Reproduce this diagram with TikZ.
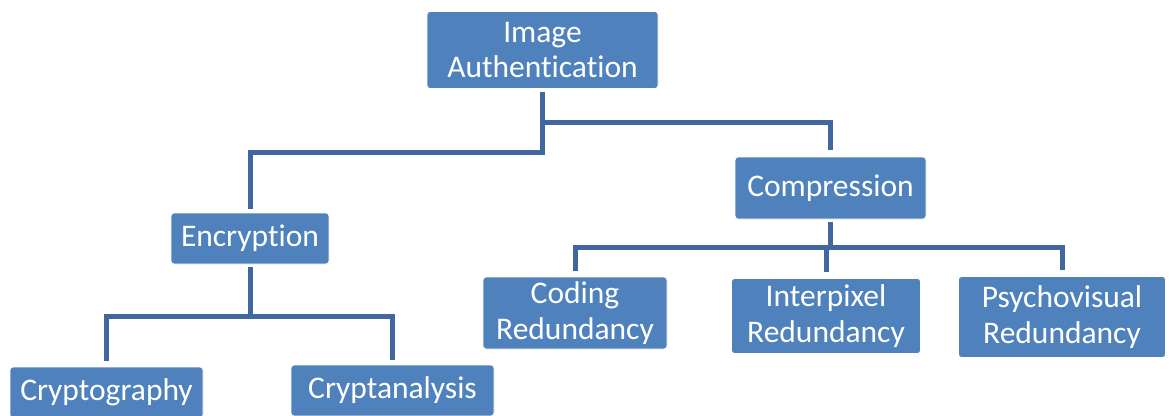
\documentclass[tikz,border=0pt]{standalone}
\usepackage{fontspec}
\setmainfont{Carlito}[Ligatures=NoCommon]
\usetikzlibrary{calc}
\definecolor{boxblue}{RGB}{79,129,189}
\definecolor{linkblue}{RGB}{65,104,158}
\begin{document}
\begin{tikzpicture}[x=1pt,y=-1pt,
  box/.style={fill=boxblue, draw=white, line width=0.8pt, rounded corners=3pt,
    text=white, align=center, inner sep=0pt,
    font=\fontsize{31.5}{35.5}\selectfont},
  conn/.style={draw=linkblue, line width=5pt, shorten <=3pt, shorten >=4pt}]
\useasboundingbox (0,0) rectangle (1169,415);
\clip (0,0) rectangle (1169,415);
\fill[white] (0,0) rectangle (1169,415);

% boxes
\node[box, minimum width=231pt, minimum height=77pt] (ia) at (542.5,50) {Image\\Authentication};
\node[box, minimum width=191pt, minimum height=62pt] (comp) at (830.5,188) {Compression};
\node[box, minimum width=158pt, minimum height=51pt] (enc) at (250,238.5) {Encryption};
\node[box, minimum width=184pt, minimum height=72pt] (cod) at (575,313) {Coding\\Redundancy};
\node[box, minimum width=189pt, minimum height=75pt] (int) at (826,316) {Interpixel\\Redundancy};
\node[box, minimum width=207pt, minimum height=81pt] (psy) at (1062,317) {Psychovisual\\Redundancy};
\node[box, minimum width=193pt, minimum height=51pt] (cgr) at (106.5,392.5) {Cryptography};
\node[box, minimum width=203pt, minimum height=51pt] (can) at (392.5,390.5) {Cryptanalysis};

% junction points of the tree
\coordinate (iaj) at ($(ia.south)+(0,34)$);
\coordinate (cj) at ($(comp.south)+(0,28)$);
\coordinate (ej) at ($(enc.south)+(0,52)$);

% connectors
\draw[conn] (ia.south) -- ++(0,64) -| (enc.north);
\draw[conn, shorten <=0pt, shorten >=7pt] (iaj) -| (comp.north);
\draw[conn, shorten >=0pt] (comp.south) -- (cj);
\draw[conn, shorten <=0pt, shorten >=6pt] (cj) -| (cod.north);
\draw[conn, shorten <=0pt, shorten >=6pt] (cj) -| (int.north);
\draw[conn, shorten <=0pt, shorten >=6pt] (cj) -| (psy.north);
\draw[conn, shorten >=0pt] (enc.south) -- (ej);
\draw[conn, shorten <=0pt, shorten >=6pt] (ej) -| (cgr.north);
\draw[conn, shorten <=0pt, shorten >=5pt] (ej) -| (can.north);
\end{tikzpicture}
\end{document}
